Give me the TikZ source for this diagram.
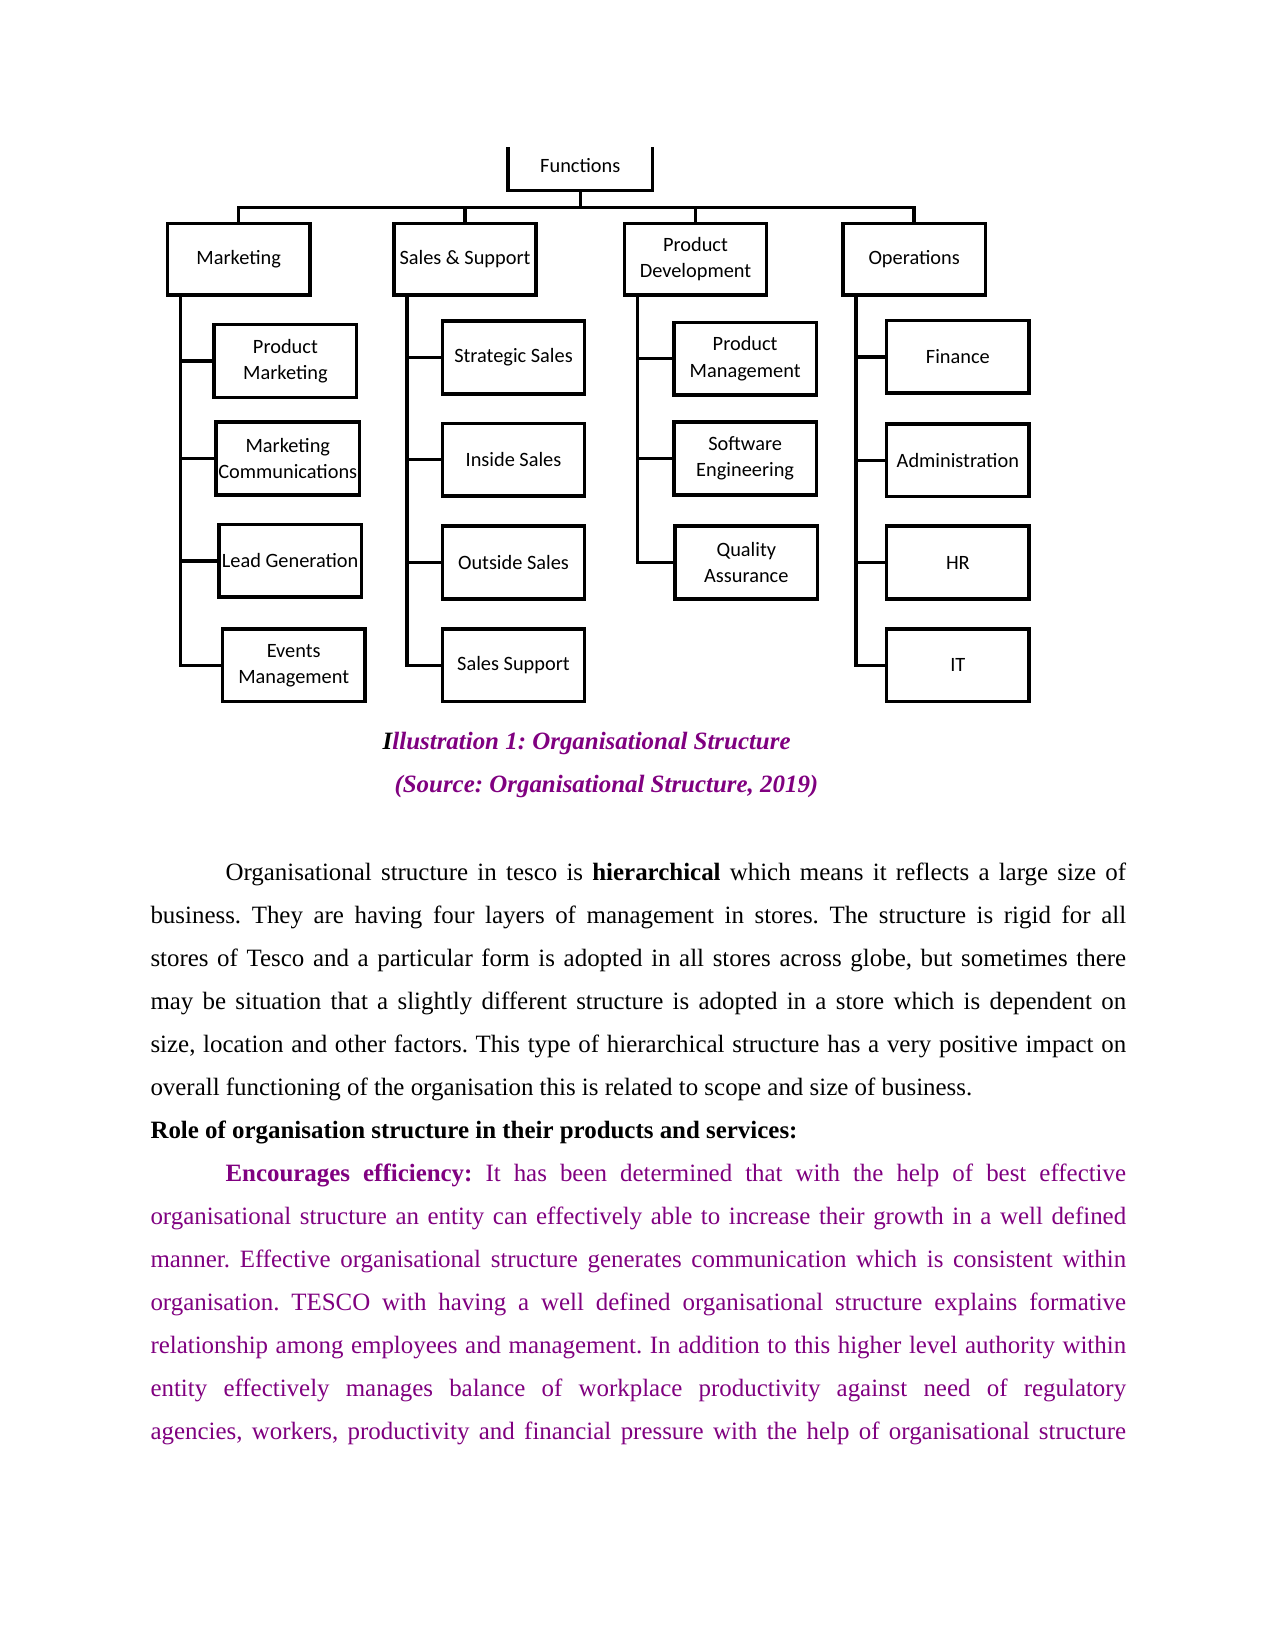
\documentclass[tikz,border=0pt]{standalone}
\usepackage{fontspec}
\setmainfont{Liberation Serif}
\newfontfamily\boxfont{Carlito}
\definecolor{orgpurple}{RGB}{128,0,128}
\frenchspacing

\begin{document}
\begin{tikzpicture}[line cap=rect,line join=miter,
  unitbox/.style={draw,line width=1.7pt,minimum width=2.41cm,minimum height=1.23cm,
    inner sep=1pt,align=center,font=\boxfont\fontsize{9.8}{12.6}\selectfont},
  headbox/.style={unitbox,minimum height=1.21cm},
  link/.style={line width=1.7pt},
  pagetext/.style={anchor=base west,inner sep=0pt,font=\fontsize{12}{20.7}\selectfont}]
  \useasboundingbox[fill=white] (0,0) rectangle (21.59,-27.94);
  % top box, open at the top
  \node[unitbox,draw=none,minimum width=2.39cm,minimum height=0.78cm] (func) at (9.82,-2.80) {Functions};
  \draw[link] ([yshift=-0.14cm]func.north west) -- (func.south west) -- (func.south east) -- ([yshift=-0.14cm]func.north east);
  % four functions
  \node[headbox] (mkt) at (4.04,-4.39) {Marketing};
  \node[headbox] (ss) at (7.87,-4.39) {Sales \& Support};
  \node[headbox] (pd) at (11.77,-4.39) {Product\\Development};
  \node[headbox] (ops) at (15.47,-4.39) {Operations};
  \coordinate (bar) at (9.82,-3.51);
  \draw[link] (func.south) -- (func.south |- bar);
  \draw[link] (mkt.north) |- (ops.north |- bar) -- (ops.north);
  \foreach \h in {ss,pd} {
    \draw[link] (\h.north) -- (\h.north |- bar);
  }
  % marketing
  \node[unitbox] (pm) at (4.83,-6.11) {Product\\Marketing};
  \node[unitbox] (mc) at (4.87,-7.76) {Marketing\\Communications};
  \node[unitbox] (lg) at (4.91,-9.49) {Lead Generation};
  \node[unitbox] (em) at (4.97,-11.26) {Events\\Management};
  % sales and support
  \node[unitbox] (sts) at (8.69,-6.05) {Strategic Sales};
  \node[unitbox] (ins) at (8.69,-7.78) {Inside Sales};
  \node[unitbox] (ous) at (8.69,-9.52) {Outside Sales};
  \node[unitbox] (sup) at (8.69,-11.26) {Sales Support};
  % product development
  \node[unitbox] (pmg) at (12.61,-6.07) {Product\\Management};
  \node[unitbox] (swe) at (12.61,-7.76) {Software\\Engineering};
  \node[unitbox] (qa) at (12.63,-9.52) {Quality\\Assurance};
  % operations
  \node[unitbox] (fin) at (16.21,-6.04) {Finance};
  \node[unitbox] (adm) at (16.21,-7.79) {Administration};
  \node[unitbox] (hr) at (16.21,-9.52) {HR};
  \node[unitbox] (it) at (16.21,-11.26) {IT};
  % trunks from each function down to its units
  \foreach \c in {pm,mc,lg,em} \draw[link] ([xshift=0.25cm]mkt.south west) |- (\c.west);
  \foreach \c in {sts,ins,ous,sup} \draw[link] ([xshift=0.25cm]ss.south west) |- (\c.west);
  \foreach \c in {pmg,swe,qa} \draw[link] ([xshift=0.25cm]pd.south west) |- (\c.west);
  \foreach \c in {fin,adm,hr,it} \draw[link] ([xshift=0.25cm]ops.south west) |- (\c.west);
  % caption
  \node[pagetext,font=\bfseries\itshape\fontsize{12}{20.7}\selectfont] (cap) at (6.47,-12.68)
    {I\textcolor{orgpurple}{llustration 1: Organisational Structure}};
  \node[pagetext,font=\bfseries\itshape\fontsize{12}{20.7}\selectfont,text=orgpurple] (src) at (6.67,-13.41)
    {(Source: Organisational Structure, 2019)};
  % body text
  \node[pagetext,text width=6.5in,align=justify] (body) at (2.54,-14.90) {%
    \tolerance=10000\hyphenpenalty=10000
    \hspace*{0.5in}Organisational structure in tesco is \textbf{hierarchical} which means it reflects a large size of\linebreak
    business. They are having four layers of management in stores. The structure is rigid for all\linebreak
    stores of Tesco and a particular form is adopted in all stores across globe, but sometimes there\linebreak
    may be situation that a slightly different structure is adopted in a store which is dependent on\linebreak
    size, location and other factors. This type of hierarchical structure has a very positive impact on\linebreak
    overall functioning of the organisation this is related to scope and size of business.\par
    \textbf{Role of organisation structure in their products and services:}\par
    {\color{orgpurple}\hspace*{0.5in}\textbf{Encourages efficiency:} It has been determined that with the help of best effective\linebreak
    organisational structure an entity can effectively able to increase their growth in a well defined\linebreak
    manner. Effective organisational structure generates communication which is consistent within\linebreak
    organisation. TESCO with having a well defined organisational structure explains formative\linebreak
    relationship among employees and management. In addition to this higher level authority within\linebreak
    entity effectively manages balance of workplace productivity against need of regulatory\linebreak
    agencies, workers, productivity and financial pressure with the help of organisational structure\parfillskip=0pt\par}};
\end{tikzpicture}
\end{document}
